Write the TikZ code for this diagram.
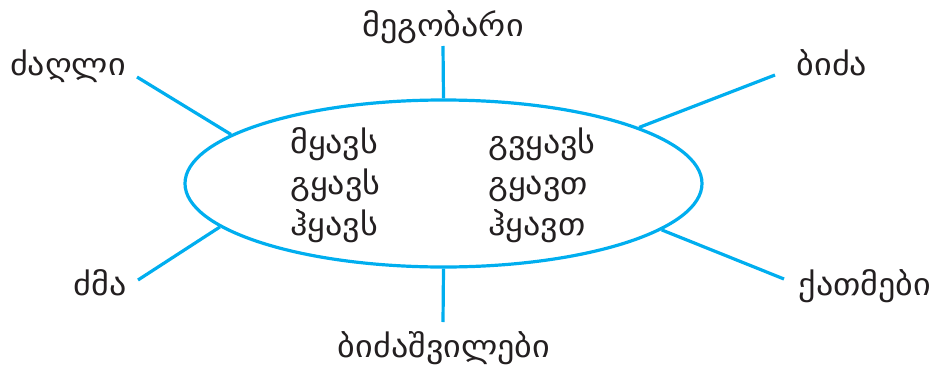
\documentclass[tikz,border=0pt]{standalone}
\usepackage{fontspec}
\usetikzlibrary{shapes.geometric}
\setmainfont{DejaVu Sans}[FakeStretch=1.1]
\definecolor{linkblue}{HTML}{00AEEF}
\definecolor{ink}{HTML}{231F20}
\begin{document}
\begin{tikzpicture}[x=1pt,y=-1pt,
  link/.style={draw=linkblue,line width=3.2pt},
  word/.style={inner sep=0pt,text=ink,font=\fontsize{31}{36}\selectfont},
  lword/.style={word,anchor=base west},
  cword/.style={word,anchor=base}]
\useasboundingbox (0,0) rectangle (939,367);
% central ellipse
\node[link,ellipse,minimum width=517pt,minimum height=167pt,inner sep=0pt] (hub) at (443.5,183.5) {};
% verb forms inside the ellipse
\node[lword] (v1) at (290,153) {მყავს};
\node[lword] (v2) at (290,194) {გყავს};
\node[lword] (v3) at (290,235) {ჰყავს};
\node[lword] (v4) at (488,153) {გვყავს};
\node[lword] (v5) at (488,194) {გყავთ};
\node[lword] (v6) at (488,235) {ჰყავთ};
% relatives around the ellipse
\node[cword] (t) at (443,36) {მეგობარი};
\node[cword] (dl) at (68,75) {ძაღლი};
\node[cword] (bd) at (832,75) {ბიძა};
\node[cword] (dm) at (100,295) {ძმა};
\node[cword] (qt) at (865,295) {ქათმები};
\node[cword] (bb) at (444,357) {ბიძაშვილები};
% spokes
\coordinate (pt) at (443,46);
\coordinate (pb) at (443,322);
\coordinate (pul) at (137,77);
\coordinate (pll) at (138,280);
\coordinate (pur) at (775,75);
\coordinate (plr) at (784,279);
\draw[link] (pt) -- (hub.north);
\draw[link] (pb) -- (hub.south);
\draw[link] (pul) -- (hub.167);
\draw[link] (pll) -- (hub.-169);
\draw[link] (pur) -- (hub.16);
\draw[link] (plr) -- (hub.-12);
\end{tikzpicture}
\end{document}
